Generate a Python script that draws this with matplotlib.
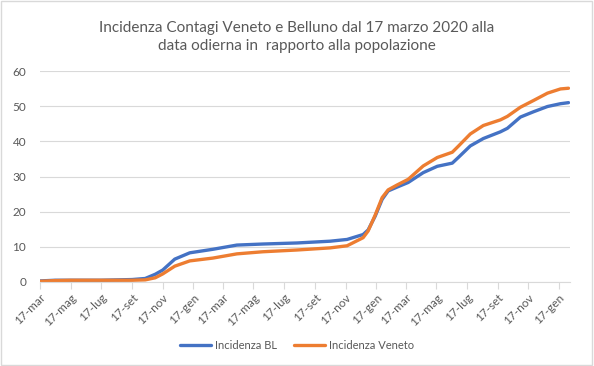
import matplotlib
matplotlib.use("Agg")
import matplotlib.pyplot as plt
import matplotlib.dates as mdates
from matplotlib.patches import Rectangle
import numpy as np
import datetime as dt

dates = ["2020-03-17", "2020-04-16", "2020-05-17", "2020-07-17", "2020-09-17",
         "2020-10-13", "2020-11-02", "2020-11-17", "2020-12-11", "2021-01-10",
         "2021-02-25", "2021-04-14", "2021-06-05", "2021-08-12", "2021-10-17",
         "2021-11-20", "2021-12-22", "2022-01-01", "2022-01-15", "2022-01-29",
         "2022-02-10", "2022-02-28", "2022-03-22", "2022-04-21", "2022-05-19",
         "2022-06-18", "2022-06-30", "2022-07-24", "2022-08-19", "2022-09-22",
         "2022-10-06", "2022-11-01", "2022-11-27", "2022-12-25", "2023-01-20",
         "2023-02-05"]
incidenza_bl = [0.3, 0.5, 0.5, 0.5, 0.7, 1.0, 2.2, 3.4, 6.5, 8.3,
                9.3, 10.5, 10.8, 11.1, 11.6, 12.1, 13.5, 14.8, 18.7, 23.5,
                25.9, 27.0, 28.3, 31.1, 32.9, 33.8, 35.4, 38.7, 40.8, 42.7,
                43.7, 46.9, 48.4, 49.9, 50.7, 51.0]
incidenza_veneto = [0.2, 0.4, 0.5, 0.5, 0.5, 0.6, 1.2, 2.3, 4.5, 6.0,
                    6.8, 8.0, 8.6, 9.1, 9.7, 10.3, 12.6, 14.5, 19.0, 24.0,
                    26.2, 27.6, 29.2, 33.0, 35.4, 36.9, 38.6, 42.1, 44.5, 46.1,
                    47.1, 49.7, 51.6, 53.7, 54.9, 55.1]
tick_dates = ["2020-03-17", "2020-05-17", "2020-07-17", "2020-09-17", "2020-11-17",
              "2021-01-17", "2021-03-17", "2021-05-17", "2021-07-17", "2021-09-17",
              "2021-11-17", "2022-01-17", "2022-03-17", "2022-05-17", "2022-07-17",
              "2022-09-17", "2022-11-17", "2023-01-17"]
tick_labels = ["17-mar", "17-mag", "17-lug", "17-set", "17-nov", "17-gen",
               "17-mar", "17-mag", "17-lug", "17-set", "17-nov", "17-gen",
               "17-mar", "17-mag", "17-lug", "17-set", "17-nov", "17-gen"]
title = "Incidenza Contagi Veneto e Belluno dal 17 marzo 2020 alla\ndata odierna in  rapporto alla popolazione"

plt.rcParams['font.family'] = ['Lato', 'DejaVu Sans']
gray = "#595959"

x = [dt.datetime.strptime(d, "%Y-%m-%d") for d in dates]
xt = [dt.datetime.strptime(d, "%Y-%m-%d") for d in tick_dates]

fig = plt.figure(figsize=(5.94, 3.66), dpi=100)
fig.patches.append(Rectangle((0.002, 0.003), 0.995, 0.994, transform=fig.transFigure,
                             fill=False, edgecolor="#D9D9D9", linewidth=1))
ax = fig.add_axes([40/594, 1-282/366, 530/594, 211/366])

ax.plot(x, incidenza_bl, color="#4472C4", lw=2.4, solid_capstyle="round",
        solid_joinstyle="round", label="Incidenza BL")
ax.plot(x, incidenza_veneto, color="#ED7D31", lw=2.4, solid_capstyle="round",
        solid_joinstyle="round", label="Incidenza Veneto")

ax.set_ylim(0, 60)
ax.set_yticks(np.arange(0, 61, 10))
ax.set_xlim(dt.datetime(2020, 3, 17), dt.datetime(2023, 2, 8))
ax.set_xticks(xt)
ax.set_xticklabels(tick_labels, rotation=45, ha="right", rotation_mode="anchor")
ax.grid(axis="y", color="#D9D9D9", lw=0.8)
ax.set_axisbelow(True)
for s in ["top", "right", "left"]:
    ax.spines[s].set_visible(False)
ax.spines["bottom"].set_color("#D9D9D9")
ax.spines["bottom"].set_linewidth(0.8)
ax.tick_params(axis="x", colors="#D9D9D9", length=5, width=0.8, labelcolor=gray,
               labelsize=8.5, pad=2)
ax.tick_params(axis="y", length=0, labelcolor=gray, labelsize=8.5, pad=10)

fig.text(0.5, 1 - 37/366, title, ha="center", va="center", fontsize=11, color=gray,
         linespacing=1.45)
fig.legend(loc="center", bbox_to_anchor=(0.5, 0.055), ncol=2, frameon=False,
           fontsize=8, labelcolor=gray, handlelength=2.8, columnspacing=1.6,
           handletextpad=0.3)

fig.savefig("out.png", dpi=100)
